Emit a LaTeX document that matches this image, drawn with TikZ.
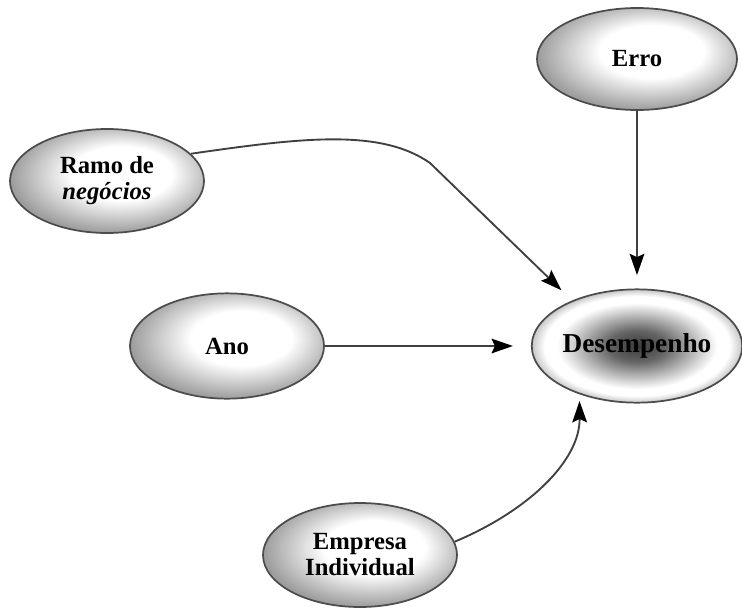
\documentclass[tikz,border=0pt]{standalone}
\usepackage{fontspec}
\setmainfont{Liberation Serif}
\usetikzlibrary{shapes.geometric,arrows.meta}
\pgfdeclareradialshading{lightshade}{\pgfpoint{5bp}{5bp}}{color(0bp)=(white); color(13bp)=(white); color(27bp)=(black!38); color(50bp)=(black!38)}
\pgfdeclareradialshading{darkshade}{\pgfpoint{0bp}{0bp}}{color(0bp)=(black!78); color(7bp)=(black!60); color(19bp)=(white); color(22bp)=(white); color(25bp)=(black!22); color(50bp)=(black!22)}
\tikzset{
  oval/.style={ellipse, draw=black!70, line width=1.3pt, shading=lightshade, inner sep=0pt,
    font=\fontsize{18.5}{19.5}\selectfont\bfseries, align=center, text=black},
  conn/.style={draw=black!75, line width=1.4pt, -{Stealth[length=16pt,width=11pt,inset=2.5pt,color=black]}}
}
\begin{document}
\begin{tikzpicture}[x=0.75pt,y=-0.75pt]
\useasboundingbox (0,0) rectangle (742,607);
\node[oval, minimum width=150pt, minimum height=76.5pt] (erro) at (637,59) {Erro};
\node[oval, minimum width=145.5pt, minimum height=78pt] (ramo) at (107,181) {Ramo de\\\textit{negócios}};
\node[oval, shading=darkshade, minimum width=155pt, minimum height=85pt,
  font=\fontsize{20.5}{22}\selectfont\bfseries] (desemp) at (637,346) {Desempenho};
\node[oval, minimum width=145.5pt, minimum height=79pt] (ano) at (227,346) {Ano};
\node[oval, minimum width=145.5pt, minimum height=78pt] (emp) at (360,555) {Empresa\\Individual};
\draw[conn, shorten >=10pt] (erro.south) -- (desemp.north);
\draw[conn, shorten >=13.5pt] (ano.east) -- (desemp.west);
\draw[conn, shorten >=11pt] (ramo.18) .. controls (300,138) and (380,128) .. (430,163) -- (desemp.145);
\draw[conn, shorten >=5pt] (emp.8) .. controls (530,510) and (580,460) .. (desemp.-140);
\end{tikzpicture}
\end{document}
